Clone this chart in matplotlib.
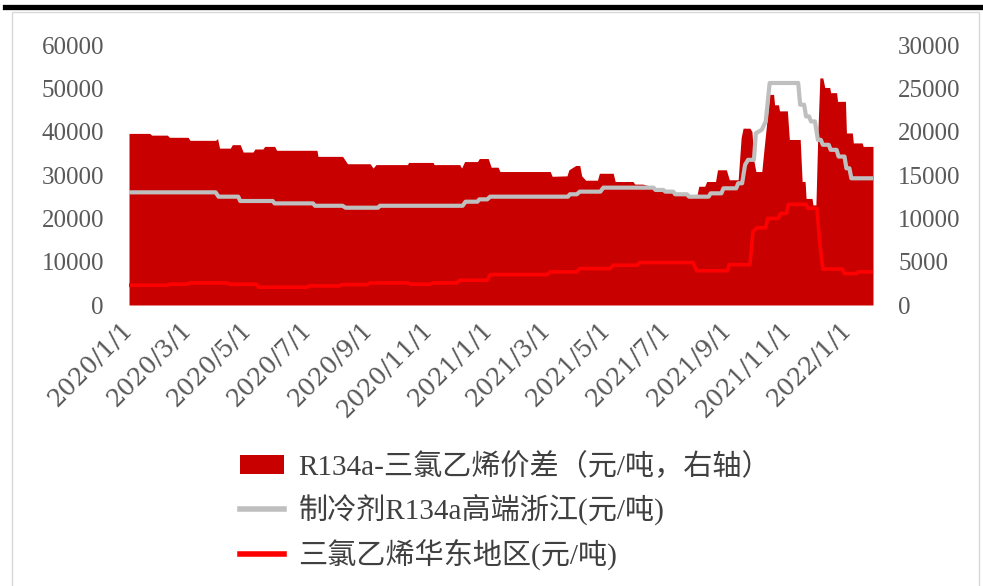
import matplotlib
matplotlib.use("Agg")
import matplotlib.pyplot as plt
from matplotlib.patches import Patch, Rectangle
from matplotlib.lines import Line2D
import pandas as pd

# ---------------- data ----------------
spread_dates = [
    "2020-01-01", "2020-01-22", "2020-01-24", "2020-02-09", "2020-02-11", "2020-03-01",
    "2020-03-03", "2020-03-29", "2020-03-31", "2020-04-02", "2020-04-13", "2020-04-15",
    "2020-04-23", "2020-04-26", "2020-05-06", "2020-05-08", "2020-05-16", "2020-05-18",
    "2020-05-28", "2020-05-30", "2020-07-10", "2020-07-11", "2020-08-05", "2020-08-10",
    "2020-09-02", "2020-09-05", "2020-09-08", "2020-10-10", "2020-10-11", "2020-11-05",
    "2020-11-06", "2020-12-02", "2020-12-04", "2020-12-07", "2020-12-20", "2020-12-22",
    "2020-12-31", "2021-01-03", "2021-01-10", "2021-01-12", "2021-03-04", "2021-03-06",
    "2021-03-21", "2021-03-23", "2021-03-30", "2021-04-03", "2021-04-05", "2021-04-09",
    "2021-04-21", "2021-04-23", "2021-05-07", "2021-05-09", "2021-05-27", "2021-05-29",
    "2021-06-06", "2021-06-17", "2021-06-27", "2021-07-07", "2021-07-21", "2021-07-31",
    "2021-08-02", "2021-08-08", "2021-08-10", "2021-08-19", "2021-08-21", "2021-08-30",
    "2021-09-02", "2021-09-11", "2021-09-14", "2021-09-16", "2021-09-23", "2021-09-25",
    "2021-09-27", "2021-09-29", "2021-10-05", "2021-10-07", "2021-10-13", "2021-10-17",
    "2021-10-18", "2021-10-22", "2021-10-23", "2021-10-31", "2021-11-02", "2021-11-13",
    "2021-11-15", "2021-11-18", "2021-11-19", "2021-11-25", "2021-11-26", "2021-11-29",
    "2021-12-01", "2021-12-03", "2021-12-06", "2021-12-08", "2021-12-13", "2021-12-14",
    "2021-12-20", "2021-12-21", "2021-12-29", "2021-12-30", "2022-01-05", "2022-01-06",
    "2022-01-15", "2022-01-16", "2022-01-26",
]
spread_vals = [
    19800, 19800, 19600, 19600, 19350, 19350,
    19000, 19000, 19200, 18100, 18100, 18500,
    18500, 17650, 17650, 18000, 18000, 18300,
    18300, 17850, 17850, 17150, 17150, 16300,
    16300, 15800, 16200, 16200, 16450, 16450,
    16200, 16200, 15800, 16550, 16550, 16900,
    16900, 15900, 15900, 15400, 15400, 14850,
    14900, 15600, 16100, 16100, 14900, 14400,
    14400, 15200, 15200, 14250, 14250, 13950,
    13950, 13600, 13300, 13000, 12750, 12600,
    13700, 13700, 14250, 14250, 15600, 15600,
    14450, 14450, 19300, 20400, 20400, 20000,
    16600, 15400, 15400, 17700, 24300, 24300,
    23100, 23100, 22400, 22400, 19100, 19100,
    14250, 14250, 12300, 12300, 11550, 11550,
    20000, 26200, 26200, 25100, 25100, 24500,
    24500, 23500, 23500, 19850, 19850, 18700,
    18700, 18300, 18300,
]

r134a_dates = [
    "2020-01-01", "2020-03-29", "2020-04-01", "2020-04-21", "2020-04-23", "2020-05-26",
    "2020-05-28", "2020-07-06", "2020-07-08", "2020-08-05", "2020-08-08", "2020-09-10",
    "2020-09-12", "2020-12-05", "2020-12-08", "2020-12-20", "2020-12-22", "2020-12-30",
    "2021-01-02", "2021-03-22", "2021-03-24", "2021-03-31", "2021-04-03", "2021-04-24",
    "2021-04-27", "2021-06-17", "2021-06-19", "2021-06-27", "2021-06-29", "2021-07-07",
    "2021-07-09", "2021-07-21", "2021-07-23", "2021-08-12", "2021-08-14", "2021-08-25",
    "2021-08-27", "2021-09-09", "2021-09-11", "2021-09-15", "2021-09-18", "2021-09-21",
    "2021-09-27", "2021-09-29", "2021-10-05", "2021-10-09", "2021-10-13", "2021-11-11",
    "2021-11-13", "2021-11-17", "2021-11-19", "2021-11-22", "2021-11-24", "2021-11-28",
    "2021-12-01", "2021-12-04", "2021-12-06", "2021-12-12", "2021-12-14", "2021-12-20",
    "2021-12-22", "2021-12-28", "2021-12-30", "2022-01-02", "2022-01-04", "2022-01-26",
]
r134a_vals = [
    26000, 26000, 25000, 25000, 24000, 24000,
    23450, 23450, 22900, 22900, 22450, 22450,
    22900, 22900, 23840, 23840, 24380, 24380,
    25000, 25000, 25550, 25550, 26160, 26160,
    27080, 27080, 26550, 26550, 26160, 26160,
    25550, 25550, 25000, 25000, 25770, 25770,
    26930, 26930, 28090, 28090, 32340, 33500,
    33500, 39650, 40430, 42360, 51230, 51230,
    46220, 46220, 43520, 43520, 42360, 42360,
    38120, 38120, 36970, 36970, 35810, 35810,
    34260, 34260, 31550, 31550, 29240, 29240,
]

tce_dates = [
    "2020-01-01", "2020-02-09", "2020-02-11", "2020-02-29", "2020-03-03", "2020-04-10",
    "2020-04-12", "2020-05-09", "2020-05-12", "2020-06-30", "2020-07-02", "2020-08-02",
    "2020-08-04", "2020-08-30", "2020-09-02", "2020-10-11", "2020-10-13", "2020-11-02",
    "2020-11-05", "2020-11-29", "2020-12-02", "2020-12-30", "2021-01-02", "2021-03-01",
    "2021-03-04", "2021-03-31", "2021-04-03", "2021-05-04", "2021-05-07", "2021-05-31",
    "2021-06-03", "2021-07-27", "2021-07-31", "2021-08-31", "2021-09-02", "2021-09-23",
    "2021-09-26", "2021-09-30", "2021-10-09", "2021-10-11", "2021-10-22", "2021-10-24",
    "2021-10-30", "2021-11-01", "2021-11-19", "2021-11-21", "2021-11-30", "2021-12-03",
    "2021-12-06", "2021-12-26", "2021-12-28", "2022-01-09", "2022-01-11", "2022-01-26",
]
tce_vals = [
    4560, 4560, 4790, 4790, 5090, 5090,
    4790, 4790, 4100, 4100, 4400, 4400,
    4700, 4700, 5090, 5090, 4790, 4790,
    5090, 5090, 5710, 5710, 7020, 7020,
    7640, 7640, 8410, 8410, 9190, 9190,
    9800, 9800, 7900, 7900, 9300, 9300,
    16900, 17820, 17820, 19980, 19980, 21130,
    21130, 23220, 23220, 22300, 22300, 14000,
    8300, 8300, 7250, 7250, 7640, 7640,
]

tick_dates = [
    "2020-01-01", "2020-03-01", "2020-05-01", "2020-07-01", "2020-09-01", "2020-11-01",
    "2021-01-01", "2021-03-01", "2021-05-01", "2021-07-01", "2021-09-01", "2021-11-01",
    "2022-01-01",
]
tick_labels = [
    "2020/1/1", "2020/3/1", "2020/5/1", "2020/7/1", "2020/9/1", "2020/11/1",
    "2021/1/1", "2021/3/1", "2021/5/1", "2021/7/1", "2021/9/1", "2021/11/1",
    "2022/1/1",
]
left_ticks = [0, 10000, 20000, 30000, 40000, 50000, 60000]
right_ticks = [0, 5000, 10000, 15000, 20000, 25000, 30000]

label_spread = "R134a-三氯乙烯价差（元/吨，右轴）"
label_r134a = "制冷剂R134a高端浙江(元/吨)"
label_tce = "三氯乙烯华东地区(元/吨)"

# ---------------- figure ----------------
W, H = 983, 586
fig = plt.figure(figsize=(W / 100, H / 100), dpi=100)
fig.patch.set_facecolor("white")

# outer decorations
fig.add_artist(Line2D([5 / W, 1.0], [1 - 7 / H, 1 - 7 / H], color="black",
                      lw=3.8, transform=fig.transFigure))
fig.add_artist(Rectangle((12 / W, -0.05), (979 - 12) / W, 1.05 - 12 / H,
                         transform=fig.transFigure, fill=False,
                         edgecolor="#D9D9D9", lw=1.0))

ax_left, ax_right = 129 / W, 873 / W
ax_bot, ax_top = 1 - 305 / H, 1 - 45 / H
ax1 = fig.add_axes([ax_left, ax_bot, ax_right - ax_left, ax_top - ax_bot])
ax2 = ax1.twinx()

sd = pd.to_datetime(spread_dates)
rd = pd.to_datetime(r134a_dates)
td = pd.to_datetime(tce_dates)

ax2.fill_between(sd, spread_vals, 0, color="#C80000", linewidth=0)
ax1.plot(rd, r134a_vals, color="#BFBFBF", lw=3.0, solid_joinstyle="round")
ax1.plot(td, tce_vals, color="#FF0000", lw=2.6, solid_joinstyle="round")

ax1.set_zorder(ax2.get_zorder() + 1)
ax1.patch.set_visible(False)

x0 = pd.Timestamp(spread_dates[0])
x1 = pd.Timestamp(spread_dates[-1])
ax1.set_xlim(x0, x1)
ax1.set_ylim(0, 60000)
ax2.set_ylim(0, 30000)

for a in (ax1, ax2):
    for s in a.spines.values():
        s.set_visible(False)

tick_color = "#595959"
ax1.set_yticks(left_ticks)
ax1.set_yticklabels([str(v) for v in left_ticks], family="Liberation Serif",
                    fontsize=18, color=tick_color)
ax2.set_yticks(right_ticks)
ax2.set_yticklabels([str(v) for v in right_ticks], family="Liberation Serif",
                    fontsize=18, color=tick_color)
ax1.tick_params(axis="y", length=0, pad=18)
ax2.tick_params(axis="y", length=0, pad=18)

ax1.set_xticks(pd.to_datetime(tick_dates))
ax1.set_xticklabels(tick_labels, rotation=45, ha="right", va="center",
                    rotation_mode="anchor", family="DejaVu Serif",
                    fontsize=17.5, color=tick_color)
ax1.tick_params(axis="x", length=0, pad=15)

handles = [
    Patch(facecolor="#C80000", edgecolor="none"),
    Line2D([0], [0], color="#BFBFBF", lw=4),
    Line2D([0], [0], color="#FF0000", lw=4),
]
leg = fig.legend(handles, [label_spread, label_r134a, label_tce],
                 loc="upper left", bbox_to_anchor=(240 / W, 1 - 453 / H),
                 frameon=False, borderpad=0, borderaxespad=0,
                 handlelength=1.5, handleheight=0.6, handletextpad=0.5,
                 labelspacing=0.45,
                 prop={"family": ["Liberation Serif", "Noto Sans CJK SC"], "size": 21})
for t in leg.get_texts():
    t.set_color("#404040")

fig.savefig("out.png", dpi=100)
